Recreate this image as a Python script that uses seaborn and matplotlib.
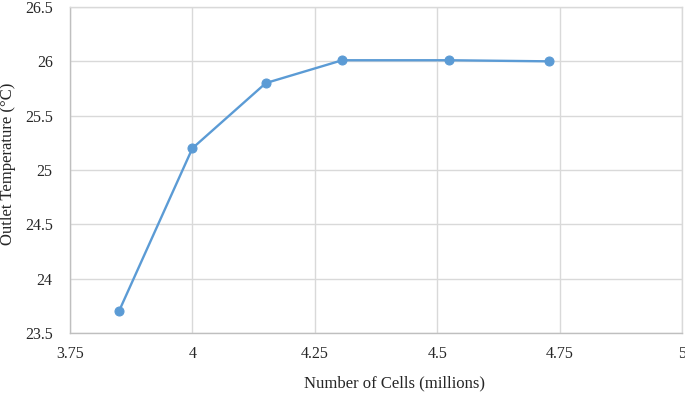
import numpy as np
import pandas as pd
import matplotlib
matplotlib.use("Agg")
import matplotlib.pyplot as plt
import seaborn as sns

# ================= DATOS =================
cells_millions = [3.85, 4.00, 4.15, 4.306, 4.525, 4.729]
outlet_temp = [23.70, 25.20, 25.80, 26.01, 26.01, 26.00]
x_ticks = [3.75, 4.0, 4.25, 4.5, 4.75, 5.0]
x_tick_labels = ["3.75", "4", "4.25", "4.5", "4.75", "5"]
y_ticks = [23.5, 24.0, 24.5, 25.0, 25.5, 26.0, 26.5]
y_tick_labels = ["23.5", "24", "24.5", "25", "25.5", "26", "26.5"]

df = pd.DataFrame({"cells": cells_millions, "temp": outlet_temp})

# ================= ESTILO =================
sns.set_style("white")
plt.rcParams["font.family"] = ["Liberation Serif", "DejaVu Serif"]

LINE_COLOR = "#5B9BD5"
GRID_COLOR = "#D9D9D9"
TEXT_COLOR = "#262626"

fig = plt.figure(figsize=(6.85, 3.93), dpi=100)
ax = fig.add_axes([70 / 685, 60 / 393, 612 / 685, 326 / 393])

sns.lineplot(data=df, x="cells", y="temp", ax=ax, color=LINE_COLOR,
             linewidth=1.7, marker="o", markersize=6.5,
             markeredgecolor=LINE_COLOR, markerfacecolor=LINE_COLOR)

ax.set_xlim(3.75, 5.0)
ax.set_ylim(23.5, 26.5)
ax.set_xticks(x_ticks)
ax.set_xticklabels(x_tick_labels)
ax.set_yticks(y_ticks)
ax.set_yticklabels(y_tick_labels)

# rejilla gris clara, como en Excel
ax.grid(True, color=GRID_COLOR, linewidth=1.0)
ax.set_axisbelow(True)
for side in ["top", "right"]:
    ax.spines[side].set_color(GRID_COLOR)
    ax.spines[side].set_linewidth(1.0)
for side in ["left", "bottom"]:
    ax.spines[side].set_color("#BFBFBF")
    ax.spines[side].set_linewidth(1.0)

ax.tick_params(axis="both", length=0, labelsize=11.5, colors=TEXT_COLOR)
ax.tick_params(axis="x", pad=9)
ax.tick_params(axis="y", pad=12.5)

ax.set_xlabel("Number of Cells (millions)", fontsize=12, color=TEXT_COLOR)
ax.set_ylabel("Outlet Temperature (°C)", fontsize=12, color=TEXT_COLOR)
# etiquetas centradas en el área del gráfico, no en los ejes
ax.xaxis.set_label_coords(0.531, -0.13)
ax.yaxis.set_label_coords(-0.088, 0.518)

fig.savefig("out.png", dpi=100)
plt.close(fig)
